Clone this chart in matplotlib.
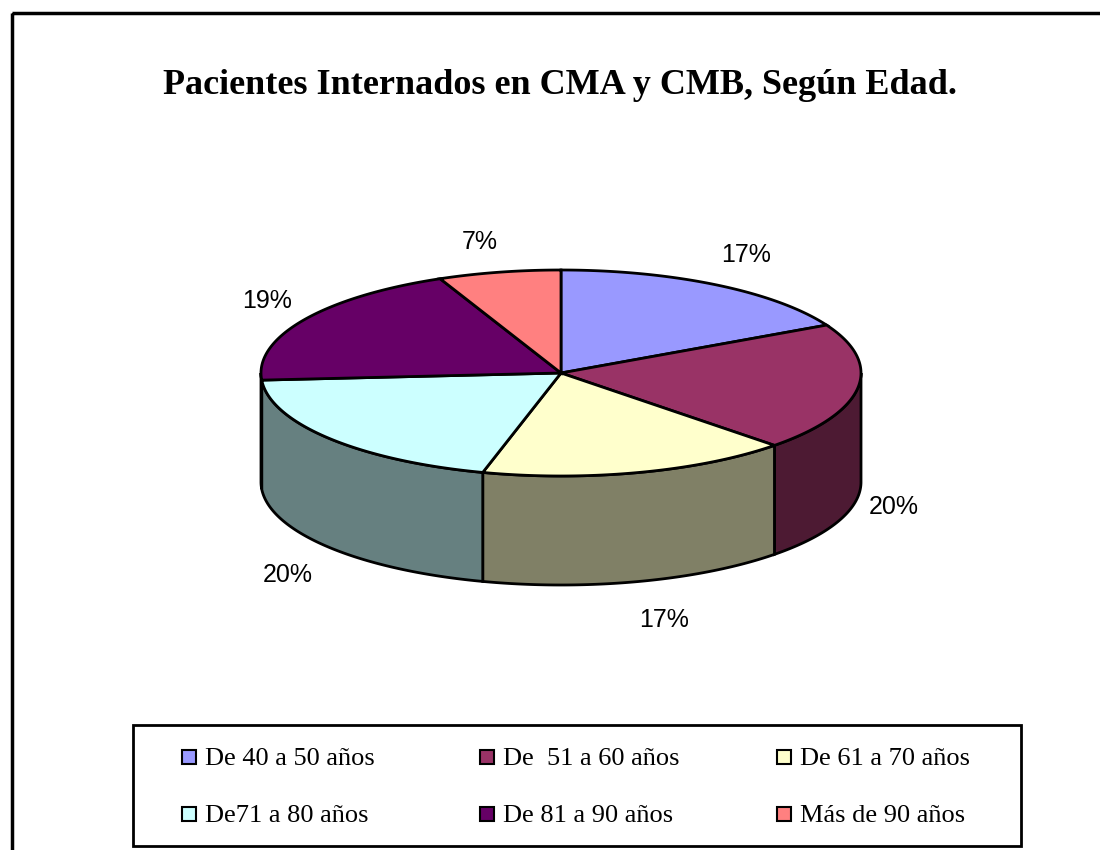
import numpy as np
import matplotlib
matplotlib.use("Agg")
import matplotlib.pyplot as plt
from matplotlib.patches import Polygon, Rectangle

title = "Pacientes Internados en CMA y CMB, Según Edad."
categories = ["De 40 a 50 años", "De  51 a 60 años", "De 61 a 70 años",
              "De71 a 80 años", "De 81 a 90 años", "Más de 90 años"]
values = [17.3, 20.1, 16.8, 19.7, 19.5, 6.6]
pct_labels = ["17%", "20%", "17%", "20%", "19%", "7%"]
colors = ["#9999FF", "#993366", "#FFFFCC", "#CCFFFF", "#660066", "#FF8080"]
side_colors = ["#4D4D80", "#4D1A33", "#808066", "#668080", "#330033", "#804040"]

# pie geometry in pixels
cx, cy = 561, 373
rx, ry = 300, 103
depth = 109

label_pos = [(746, 255), (894, 507), (664, 620), (288, 575), (267, 301), (480, 242)]
legend_pos = [(190, 758), (488, 758), (785, 758), (190, 815), (488, 815), (785, 815)]

fig = plt.figure(figsize=(11, 8.5), dpi=100)
ax = fig.add_axes([0, 0, 1, 1])
ax.set_xlim(0, 1100)
ax.set_ylim(850, 0)
ax.axis("off")


def rim(a0, a1):
    # angle measured clockwise from the top of the ellipse
    t = np.radians(np.linspace(a0, a1, 120))
    return cx + rx * np.sin(t), cy - ry * np.cos(t)


# outer frame, cut by the image edge on the right and bottom
ax.add_patch(Rectangle((12, 13), 1100, 860, fill=False, ec="black", lw=2.5, clip_on=True))

ax.text(560, 85, title, ha="center", va="center", fontsize=26, fontweight="bold",
        family="Liberation Serif", color="black")

edges = np.cumsum([0] + values) / sum(values) * 360

# sides (front half only, 90 to 270 degrees)
for i in range(len(values)):
    a0, a1 = max(edges[i], 90), min(edges[i + 1], 270)
    if a1 <= a0:
        continue
    x, y = rim(a0, a1)
    pts = np.r_[np.c_[x, y], np.c_[x, y + depth][::-1]]
    ax.add_patch(Polygon(pts, closed=True, fc=side_colors[i], ec="black", lw=2))

# top
for i in range(len(values)):
    x, y = rim(edges[i], edges[i + 1])
    pts = np.r_[[[cx, cy]], np.c_[x, y]]
    ax.add_patch(Polygon(pts, closed=True, fc=colors[i], ec="black", lw=2))

for (px, py), s in zip(label_pos, pct_labels):
    ax.text(px, py, s, ha="center", va="center", fontsize=18, family="Liberation Sans", color="black")

# legend
ax.add_patch(Rectangle((133, 725), 888, 121, fc="white", ec="black", lw=2))
for (px, py), c, name in zip(legend_pos, colors, categories):
    ax.add_patch(Rectangle((px - 8, py - 8), 14, 14, fc=c, ec="black", lw=1.5))
    ax.text(px + 15, py + 1, name, ha="left", va="center", fontsize=19, family="Liberation Serif", color="black")

fig.savefig("out.png", dpi=100)
